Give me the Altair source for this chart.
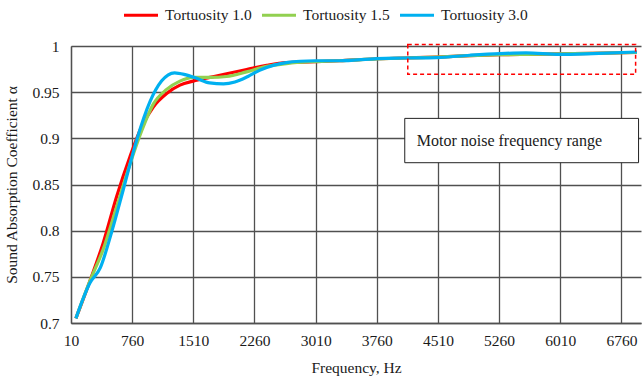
import altair as alt
import pandas as pd

series_names = ["Tortuosity 1.0", "Tortuosity 1.5", "Tortuosity 3.0"]
series_colors = ["#FF0000", "#92D050", "#00B0F0"]

freq_red = [70, 240, 406, 570, 733, 876, 1019, 1183, 1346, 1509, 1713, 1918, 2163, 2408,
            2653, 2940, 3300, 3760, 4100, 4500, 4900, 5270, 5600, 6000, 6400, 6950]
alpha_red = [0.705, 0.745, 0.787, 0.837, 0.880, 0.9125, 0.934, 0.9486, 0.9576, 0.962, 0.966,
             0.970, 0.9745, 0.979, 0.982, 0.9827, 0.984, 0.9862, 0.987, 0.988, 0.9895,
             0.9905, 0.991, 0.9915, 0.992, 0.993]

freq_green = freq_red
alpha_green = [0.705, 0.745, 0.780, 0.826, 0.872, 0.908, 0.937, 0.953, 0.962, 0.966, 0.966,
               0.967, 0.972, 0.978, 0.981, 0.983, 0.984, 0.986, 0.987, 0.988, 0.9895,
               0.9905, 0.991, 0.9915, 0.992, 0.993]

freq_blue = [70, 240, 370, 510, 650, 815, 980, 1120, 1280, 1410, 1550, 1710, 1880, 2020,
             2180, 2330, 2490, 2650, 2820, 3000, 3300, 3760, 4100, 4490, 4900, 5270, 5590,
             6000, 6410, 6950]
alpha_blue = [0.705, 0.743, 0.760, 0.799, 0.844, 0.898, 0.940, 0.962, 0.971, 0.969, 0.965,
              0.960, 0.959, 0.961, 0.967, 0.974, 0.979, 0.982, 0.9835, 0.984, 0.984, 0.9864,
              0.987, 0.9874, 0.990, 0.9918, 0.9925, 0.991, 0.9918, 0.9935]

x_ticks = [10, 760, 1510, 2260, 3010, 3760, 4510, 5260, 6010, 6760]
y_ticks = [0.7, 0.75, 0.8, 0.85, 0.9, 0.95, 1.0]

# annotation boxes (data coordinates)
range_box_x = [4140, 6934]
range_box_y = [0.9694, 1.0015]
label_box_x = [4103, 6970]
label_box_y = [0.8736, 0.9216]
label_text = "Motor noise frequency range"
label_pos = [4250, 0.8975]

rows = []
for name, fs, vs in zip(series_names, [freq_red, freq_green, freq_blue],
                        [alpha_red, alpha_green, alpha_blue]):
    for f, v in zip(fs, vs):
        rows.append({"Frequency": f, "Alpha": v, "Series": name})
df = pd.DataFrame(rows)

FONT = "Liberation Serif"
GRID = "#505050"
TXT = "#1a1a1a"

xscale = alt.Scale(domain=[10, 7000], nice=False, zero=False)
yscale = alt.Scale(domain=[0.7, 1.0], nice=False, zero=False)

lines = alt.Chart(df).mark_line(interpolate="monotone").encode(
    x=alt.X("Frequency:Q", scale=xscale,
            axis=alt.Axis(values=x_ticks, title="Frequency, Hz", grid=True, format="d",
                          labelPadding=10, titlePadding=12, ticks=False,
                          labelFlush=False)),
    y=alt.Y("Alpha:Q", scale=yscale,
            axis=alt.Axis(values=y_ticks, title="Sound Absorption Coefficient α",
                          grid=True, ticks=False, labelPadding=12, titlePadding=12,
                          labelFlush=False,
                          labelExpr="datum.value == 1 ? '1' : format(datum.value, '.2~f')")),
    color=alt.Color("Series:N",
                    scale=alt.Scale(domain=series_names, range=series_colors),
                    legend=alt.Legend(title=None, orient="none", legendX=51, legendY=-50,
                                      direction="horizontal", symbolType="stroke",
                                      symbolSize=1156, symbolStrokeWidth=4,
                                      labelOffset=5, columnPadding=3,
                                      labelFontSize=15.5, labelFont=FONT,
                                      labelColor=TXT)),
    strokeWidth=alt.StrokeWidth("Series:N",
                                scale=alt.Scale(domain=series_names, range=[3.2, 3.2, 4.2]),
                                legend=None),
)

range_df = pd.DataFrame({"x": [range_box_x[0]], "x2": [range_box_x[1]],
                         "y": [range_box_y[0]], "y2": [range_box_y[1]]})
range_box = alt.Chart(range_df).mark_rect(fill=None, stroke="#FF0000", strokeWidth=1.5,
                                          strokeDash=[4, 3]).encode(
    x=alt.X("x:Q", scale=xscale), x2="x2:Q",
    y=alt.Y("y:Q", scale=yscale), y2="y2:Q")

label_df = pd.DataFrame({"x": [label_box_x[0]], "x2": [label_box_x[1]],
                         "y": [label_box_y[0]], "y2": [label_box_y[1]]})
label_box = alt.Chart(label_df).mark_rect(fill="white", stroke="#222222",
                                          strokeWidth=1).encode(
    x=alt.X("x:Q", scale=xscale), x2="x2:Q",
    y=alt.Y("y:Q", scale=yscale), y2="y2:Q")

text_df = pd.DataFrame({"x": [label_pos[0]], "y": [label_pos[1]], "t": [label_text]})
label = alt.Chart(text_df).mark_text(align="left", baseline="middle", font=FONT,
                                     fontSize=16, color=TXT).encode(
    x=alt.X("x:Q", scale=xscale), y=alt.Y("y:Q", scale=yscale), text="t:N")

chart = alt.layer(lines, range_box, label_box, label).properties(
    width=570, height=277,
    autosize=alt.AutoSizeParams(type="none"),
    padding={"left": 71, "top": 46, "right": 2, "bottom": 62},
    background="white",
).configure_view(stroke=None).configure_axis(
    labelFont=FONT, titleFont=FONT, labelFontSize=15.5, titleFontSize=15.5,
    labelColor=TXT, titleColor=TXT, titleFontWeight="normal",
    gridColor=GRID, gridWidth=1.3, gridOpacity=1,
    domainColor=GRID, domainWidth=1.3,
)

chart.save("out.html", embed_options={"renderer": "svg", "actions": False})
